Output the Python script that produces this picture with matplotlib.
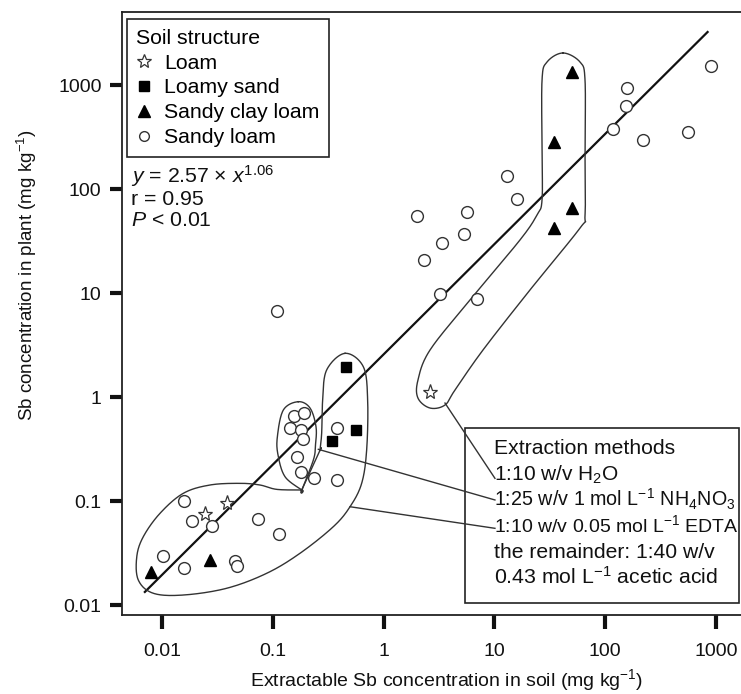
import numpy as np
import matplotlib
matplotlib.use('Agg')
import matplotlib.pyplot as plt
from matplotlib.lines import Line2D
from matplotlib.patches import Rectangle

plt.rcParams['font.family'] = ['Liberation Sans', 'DejaVu Sans']
plt.rcParams['mathtext.fontset'] = 'custom'
plt.rcParams['mathtext.rm'] = 'Liberation Sans'
plt.rcParams['mathtext.it'] = 'Liberation Sans:italic'
plt.rcParams['mathtext.bf'] = 'Liberation Sans:bold'

# ---------------- data ----------------
loam_x = [0.0246, 0.0386, 2.62]
loam_y = [0.0746, 0.0963, 1.12]

loamy_sand_x = [0.455, 0.564, 0.344]
loamy_sand_y = [1.95, 0.482, 0.38]

sandy_clay_loam_x = [0.0079, 0.0273, 49.9, 34.5, 49.9, 34.5]
sandy_clay_loam_y = [0.0209, 0.0271, 1343, 285, 65.2, 41.9]

sandy_loam_x = [0.0103, 0.0159, 0.0159, 0.0187, 0.0283, 0.0456, 0.0475, 0.0739, 0.113,
                0.155, 0.191, 0.144, 0.181, 0.186, 0.164, 0.180, 0.235, 0.382, 0.382, 0.109,
                902, 158.5, 154, 117.5, 221, 556, 12.9, 15.9, 1.99, 5.69, 5.35, 3.39, 2.3, 3.23, 7.01]
sandy_loam_y = [0.0299, 0.0225, 0.100, 0.0643, 0.0575, 0.0267, 0.0237, 0.0671, 0.0478,
                0.661, 0.697, 0.500, 0.482, 0.394, 0.267, 0.189, 0.168, 0.159, 0.500, 6.7,
                1524, 942, 628, 378, 296, 356, 133, 80, 55, 60.5, 36.6, 30, 21, 9.77, 8.7]

fit_a, fit_b = 2.57, 1.06
fit_xmin, fit_xmax = 0.007, 840

x_ticks = [0.01, 0.1, 1, 10, 100, 1000]
x_ticklabels = ['0.01', '0.1', '1', '10', '100', '1000']
y_ticks = [0.01, 0.1, 1, 10, 100, 1000]
y_ticklabels = ['0.01', '0.1', '1', '10', '100', '1000']

legend_labels = ['Loam', 'Loamy sand', 'Sandy clay loam', 'Sandy loam']

method_lines = ['Extraction methods',
                r'1:10 w/v H$_2$O',
                r'1:25 w/v 1 mol L$^{-1}$ NH$_4$NO$_3$',
                r'1:10 w/v 0.05 mol L$^{-1}$ EDTA',
                'the remainder: 1:40 w/v',
                r'0.43 mol L$^{-1}$ acetic acid']
method_sizes = [15.2, 15.0, 14.2, 14.0, 15.2, 15.3]

eq_lines = [r'$y$ = 2.57 $\times$ $x^{1.06}$', 'r = 0.95', r'$P$ < 0.01']

# enclosure outlines (log10 data units)
encl_h2o = [(1.619, 3.308), (1.773, 3.221), (1.818, 3.048), (1.818, 2.375), (1.818, 1.75),
            (1.773, 1.625), (1.321, 1.029), (0.897, 0.452), (0.644, 0.067), (0.554, -0.077),
            (0.419, -0.106), (0.310, -0.010), (0.310, 0.163), (0.419, 0.452), (0.780, 0.933),
            (1.231, 1.510), (1.384, 1.75), (1.430, 1.894), (1.430, 2.375), (1.430, 3.048),
            (1.475, 3.221)]
encl_edta = [(-0.348, 0.420), (-0.183, 0.291), (-0.144, -0.029), (-0.153, -0.510), (-0.198, -0.830),
             (-0.303, -1.055), (-0.454, -1.247), (-0.755, -1.503), (-1.055, -1.695), (-1.416, -1.839),
             (-1.808, -1.904), (-2.079, -1.887), (-2.214, -1.760), (-2.228, -1.536), (-2.169, -1.343),
             (-2.018, -1.118), (-1.808, -0.926), (-1.567, -0.846), (-1.296, -0.830), (-1.116, -0.846),
             (-0.965, -0.888), (-0.739, -0.894), (-0.739, -0.894), (-0.574, -0.510), (-0.574, -0.510),
             (-0.559, -0.346), (-0.550, -0.029), (-0.514, 0.260)]
encl_nh4 = [(-0.770, -0.045), (-0.664, -0.106), (-0.610, -0.286), (-0.615, -0.462), (-0.634, -0.606),
            (-0.739, -0.894), (-0.739, -0.894), (-0.890, -0.766), (-0.953, -0.558), (-0.959, -0.382),
            (-0.905, -0.125)]
leaders = [((0.554, -0.058), (1.005, -0.782)),
           ((-0.589, -0.503), (1.005, -0.990)),
           ((-0.303, -1.055), (1.005, -1.2625))]


def smooth_closed(pts, n=24):
    P = np.array(pts, dtype=float)
    N = len(P)
    segs = []
    t = np.linspace(0, 1, n, endpoint=False)[:, None]
    for i in range(N):
        p0, p1, p2, p3 = P[(i - 1) % N], P[i], P[(i + 1) % N], P[(i + 2) % N]
        seg = 0.5 * ((2 * p1) + (-p0 + p2) * t + (2 * p0 - 5 * p1 + 4 * p2 - p3) * t ** 2
                     + (-p0 + 3 * p1 - 3 * p2 + p3) * t ** 3)
        segs.append(seg)
    segs.append(P[:1])
    return np.vstack(segs)


W, H = 741, 694
fig = plt.figure(figsize=(W / 100, H / 100), dpi=100)
ax_l, ax_r, ax_t, ax_b = 121.7, 745, 12, 615
axw, axh = ax_r - ax_l, ax_b - ax_t
ax = fig.add_axes([ax_l / W, 1 - ax_b / H, axw / W, axh / H])


def fx_(px):
    return (px - ax_l) / axw


def fy_(py):
    return (ax_b - py) / axh


ax.set_xscale('log')
ax.set_yscale('log')
ax.set_xlim(10 ** -2.364, 10 ** 3.262)
ax.set_ylim(10 ** -2.096, 10 ** 3.702)

ax.plot(sandy_loam_x, sandy_loam_y, 'o', ms=8.5, mfc='white', mec='#333333', mew=1.0, ls='none', zorder=3)
ax.plot(loam_x, loam_y, '*', ms=11, mfc='white', mec='#333333', mew=0.9, ls='none', zorder=3)
ax.plot(loamy_sand_x, loamy_sand_y, 's', ms=6.5, mfc='black', mec='black', ls='none', zorder=3)
ax.plot(sandy_clay_loam_x, sandy_clay_loam_y, '^', ms=8.5, mfc='black', mec='black', ls='none', zorder=3)

fx = np.geomspace(fit_xmin, fit_xmax, 60)
ax.plot(fx, fit_a * fx ** fit_b, color='#111111', lw=1.6, zorder=2)

for outline in (encl_h2o, encl_edta, encl_nh4):
    c = smooth_closed(outline)
    ax.plot(10 ** c[:, 0], 10 ** c[:, 1], color='#333333', lw=1.0, zorder=2)
for (a, b) in leaders:
    ax.plot([10 ** a[0], 10 ** b[0]], [10 ** a[1], 10 ** b[1]], color='#333333', lw=1.0, zorder=5)

# annotation box
ax.add_patch(Rectangle((fx_(465), fy_(603)), fx_(739) - fx_(465), fy_(427.7) - fy_(603),
                       transform=ax.transAxes, facecolor='white', edgecolor='#222222', lw=1.2, zorder=4))
line_y = [449, 475, 499, 525, 552, 577]
for s, yy, fs in zip(method_lines, line_y, method_sizes):
    ax.text(fx_(494), fy_(yy), s, transform=ax.transAxes,
            fontsize=fs, va='center', ha='left', zorder=6, color='#111111')

# equation text (baselines)
for s, yy in zip(eq_lines, [183, 205, 226]):
    ax.text(fx_(131), fy_(yy), s, transform=ax.transAxes,
            fontsize=15.3, va='baseline', ha='left', color='#111111')

# legend
handles = [Line2D([], [], marker='*', ms=10, mfc='white', mec='#333333', mew=0.9, ls='none'),
           Line2D([], [], marker='s', ms=7, mfc='black', mec='black', ls='none'),
           Line2D([], [], marker='^', ms=8.5, mfc='black', mec='black', ls='none'),
           Line2D([], [], marker='o', ms=7, mfc='white', mec='#333333', mew=1.0, ls='none')]
leg = ax.legend(handles, legend_labels, title='Soil structure', loc='upper left',
                bbox_to_anchor=(fx_(126.7), fy_(19)),
                borderaxespad=0, fontsize=15.3, title_fontsize=15.3, frameon=True, fancybox=False,
                edgecolor='#222222', framealpha=1, handlelength=0.75, handletextpad=0.55,
                labelspacing=0.28, borderpad=0.45, alignment='left')
leg.get_frame().set_linewidth(1.2)
leg.set_zorder(6)

# axes styling
ax.spines['right'].set_visible(False)
for sp in ('left', 'bottom', 'top'):
    ax.spines[sp].set_linewidth(1.3)
    ax.spines[sp].set_color('#222222')
ax.minorticks_off()
ax.set_xticks(x_ticks)
ax.set_xticklabels(x_ticklabels)
ax.set_yticks(y_ticks)
ax.set_yticklabels(y_ticklabels)
ax.tick_params(axis='x', direction='out', length=10, width=3, pad=10, labelsize=14, colors='#111111')
ax.tick_params(axis='y', direction='out', length=8.5, width=3, pad=6, labelsize=14, colors='#111111')

ax.set_xlabel(r'Extractable Sb concentration in soil (mg kg$^{-1}$)', fontsize=14, color='#111111', va='top')
ax.xaxis.set_label_coords(fx_(447), fy_(667))
ax.set_ylabel(r'Sb concentration in plant (mg kg$^{-1}$)', fontsize=13.5, color='#111111')
ax.yaxis.set_label_coords(fx_(39), fy_(275))

fig.savefig('out.png', dpi=100)
